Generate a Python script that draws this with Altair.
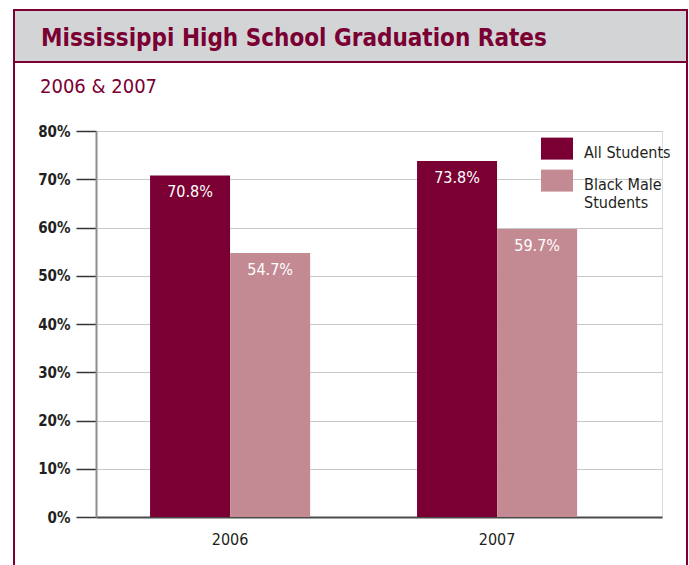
import altair as alt
import pandas as pd

# ---- data ----
years = ["2006", "2007"]
groups = ["All Students", "Black Male Students"]
all_students = [70.8, 73.8]
black_male = [54.7, 59.7]
y_ticks = [0, 10, 20, 30, 40, 50, 60, 70, 80]
colors = ["#7a0033", "#c48a94"]
title_text = "Mississippi High School Graduation Rates"
subtitle_text = "2006 & 2007"

rows = []
for i, yr in enumerate(years):
    rows.append({"year": yr, "group": groups[0], "rate": all_students[i]})
    rows.append({"year": yr, "group": groups[1], "rate": black_male[i]})
df = pd.DataFrame(rows)
df["label"] = df["rate"].map(lambda v: f"{v:.1f}%")

FONT = "DejaVu Sans Condensed, serif"
MAROON = "#7a0033"
DARK = "#231f20"

x = alt.X(
    "year:N",
    scale=alt.Scale(domain=years, paddingInner=0.4, paddingOuter=0.26, align=0.389),
    axis=alt.Axis(title=None, labelAngle=0, ticks=False, domain=True,
                  domainColor="#4a4a4a", domainWidth=2, labelFont=FONT,
                  labelFontSize=16, labelColor=DARK, labelPadding=14, grid=False),
)
xoff = alt.XOffset("group:N", scale=alt.Scale(domain=groups, paddingInner=0, paddingOuter=0))
y = alt.Y(
    "rate:Q",
    scale=alt.Scale(domain=[0, 80], nice=False),
    axis=alt.Axis(title=None, values=y_ticks, labelExpr="datum.value + '%'",
                  tickSize=20, tickColor="#333333", tickWidth=1.5,
                  domainColor="#8c8c8c", domainWidth=2,
                  gridColor="#c8c8c8", gridWidth=1, labelPadding=6,
                  labelFont=FONT, labelFontSize=15, labelColor=DARK,
                  labelFontWeight="bold"),
)
color = alt.Color(
    "group:N",
    scale=alt.Scale(domain=groups, range=colors),
    legend=alt.Legend(
        title=None, orient="none", legendX=445, legendY=-2, direction="vertical",
        symbolType="M-1,-0.4625H1V0.9125H-1Z", symbolSize=1024, symbolStrokeWidth=0,
        symbolOpacity=1, labelFont=FONT, labelFontSize=16, labelColor=DARK,
        labelOffset=11, rowPadding=0, padding=0, labelBaseline="top",
        labelExpr="datum.label == 'Black Male Students' ? ['Black Male', 'Students'] : datum.label",
        labelLimit=200,
    ),
)

bars = alt.Chart(df).mark_bar(size=80).encode(x=x, xOffset=xoff, y=y, color=color)
labels = alt.Chart(df).mark_text(
    color="white", font=FONT, fontSize=16, baseline="alphabetic", dy=22
).encode(x=x, xOffset=xoff, y=y, text="label:N")

one = pd.DataFrame({"k": [0]})

def box(x1, x2, y1, y2, fill):
    return alt.Chart(one).mark_rect(fill=fill).encode(
        x=alt.value(x1), x2=alt.value(x2), y=alt.value(y1), y2=alt.value(y2))

band = box(-81, 590, -120, -70, "#d3d4d6")
top_line = box(-83, 592, -122, -120, MAROON)
band_line = box(-83, 592, -70, -68, MAROON)
left_line = box(-83, -81, -122, 434, MAROON)
right_line = box(590, 592, -122, 434, MAROON)

title = alt.Chart(one).mark_text(
    text=title_text, font=FONT, fontSize=24, fontWeight="bold", color=MAROON,
    align="left", baseline="alphabetic"
).encode(x=alt.value(-55), y=alt.value(-85))
subtitle = alt.Chart(one).mark_text(
    text=subtitle_text, font=FONT, fontSize=20, color=MAROON,
    align="left", baseline="alphabetic"
).encode(x=alt.value(-56), y=alt.value(-38))

chart = alt.layer(
    band, top_line, band_line, left_line, right_line, title, subtitle, bars, labels
).properties(
    width=566, height=386,
    autosize=alt.AutoSizeParams(type="none"),
    padding={"left": 96, "top": 131, "right": 27, "bottom": 48},
).configure_view(stroke=None).configure(background="white")

chart.save("out.html", embed_options={"renderer": "svg", "actions": False})
